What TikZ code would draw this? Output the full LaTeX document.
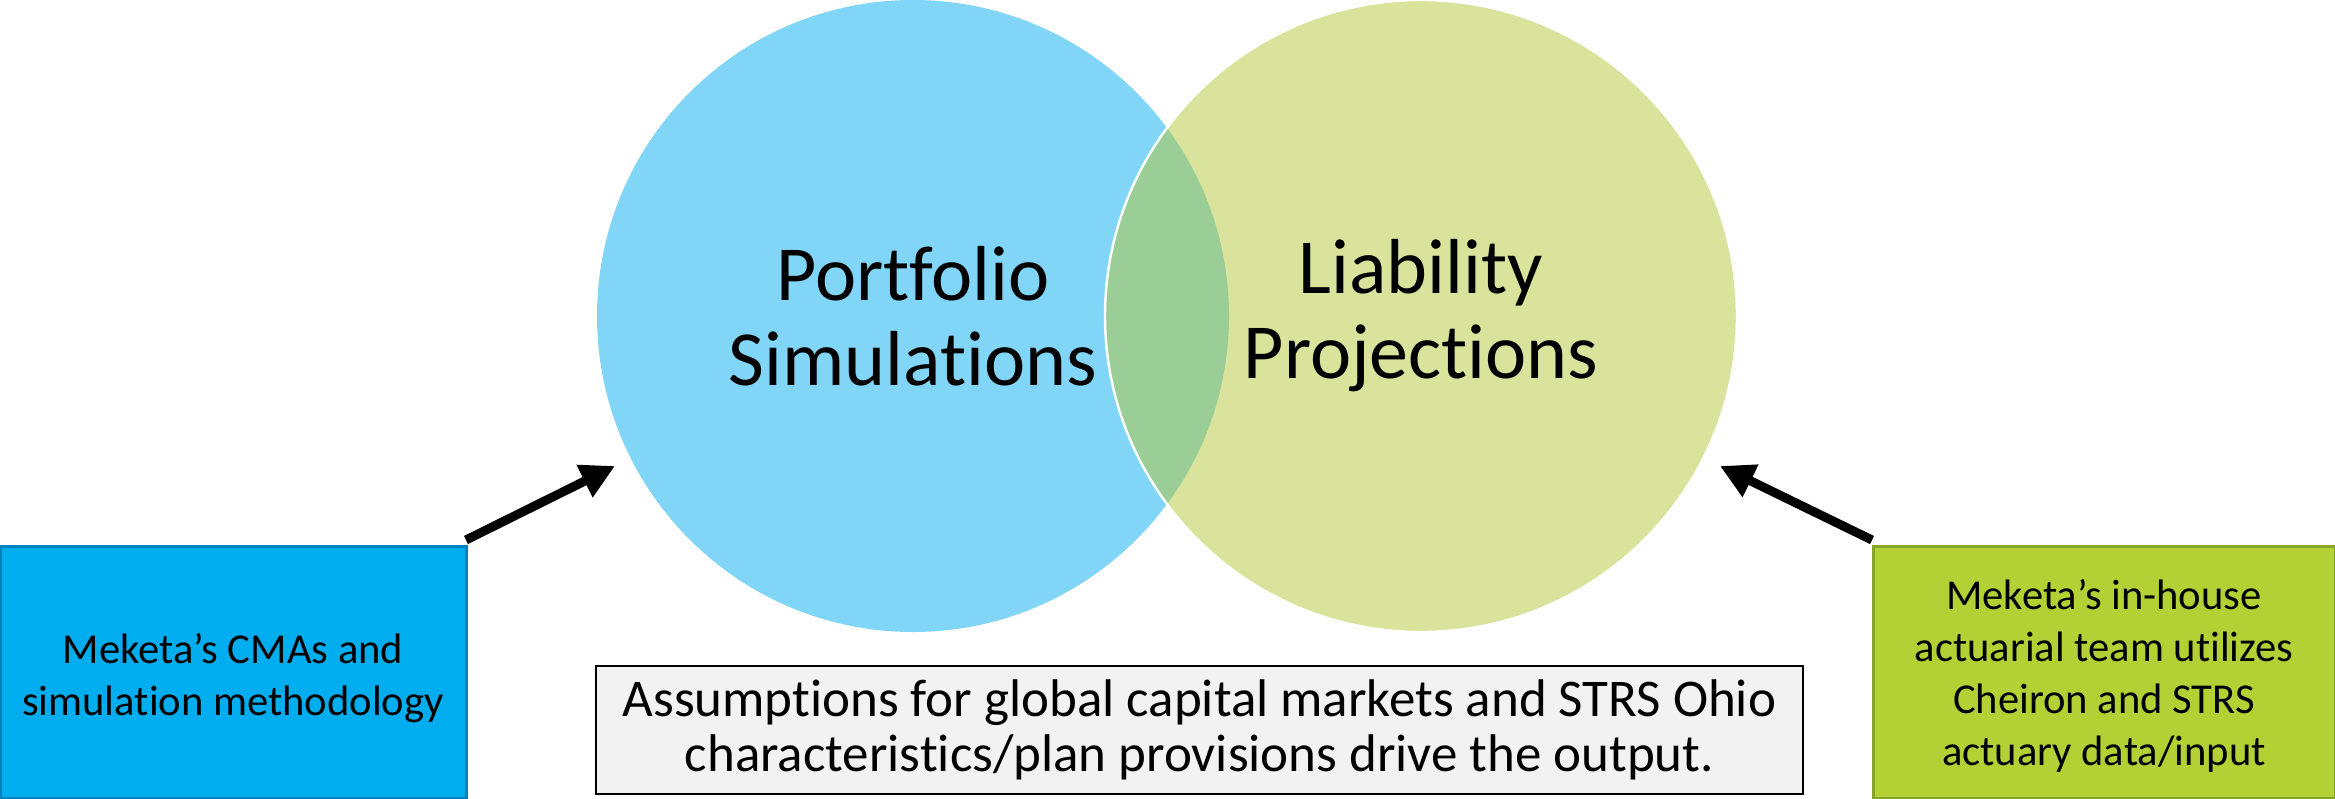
\documentclass[tikz,border=0pt]{standalone}
\usepackage{fontspec}
\setmainfont{Carlito}[Ligatures=NoCommon]
\usetikzlibrary{arrows.meta}
\definecolor{cblue}{RGB}{129,214,247}
\definecolor{cgreen}{RGB}{179,199,55}
\definecolor{lboxfill}{RGB}{0,174,239}
\definecolor{lboxdraw}{RGB}{0,130,190}
\definecolor{rboxfill}{RGB}{179,208,52}
\definecolor{rboxdraw}{RGB}{135,165,40}
\definecolor{notefill}{RGB}{242,242,242}
\tikzset{
  venn/.style={circle, inner sep=0pt, minimum size=316pt, align=center,
    font=\fontsize{39pt}{42.5pt}\selectfont},
  sidebox/.style={rectangle, inner sep=0pt, line width=1.5pt, align=center,
    minimum height=126pt, font=\fontsize{21.3pt}{26pt}\selectfont},
  notebox/.style={rectangle, inner sep=0pt, draw=black, line width=1pt, fill=notefill,
    align=center, minimum width=603.5pt, minimum height=64pt,
    font=\fontsize{26.5pt}{27.5pt}\selectfont},
  bigarrow/.style={line width=4.5pt, -{Triangle[length=17pt,width=17pt]}}
}
\begin{document}
\begin{tikzpicture}[x=0.5pt,y=-0.5pt]
\useasboundingbox (0,0) rectangle (2335,798);
\node[venn, fill=cblue] (lc) at (913,316) {Portfolio\\Simulations};
\node[venn, fill=cgreen, fill opacity=0.5, text opacity=1, draw=white, line width=1.2pt] (rc) at (1421,316) {Liability\\Projections};
\node[sidebox, fill=lboxfill, draw=lboxdraw, minimum width=233pt] (lbox) at (233,672) {};
\node[sidebox, fill=rboxfill, draw=rboxdraw, minimum width=231pt] (rbox) at (2104,672) {};
\node[sidebox, draw=none, fill=none] (ltext) at (233,678) {Meketa’s CMAs and\\simulation methodology};
\node[sidebox, draw=none, fill=none] (rtext) at (2104,676) {Meketa’s in-house\\actuarial team utilizes\\Cheiron and STRS\\actuary data/input};
\node[notebox] (note) at (1199.5,730)
  {Assumptions for global capital markets and STRS Ohio\\characteristics/plan provisions drive the output.};
\coordinate (la) at (466,540);
\coordinate (lb) at (615,466);
\coordinate (ra) at (1872,540);
\coordinate (rb) at (1720,466);
\draw[bigarrow] (la) -- (lb);
\draw[bigarrow] (ra) -- (rb);
\end{tikzpicture}
\end{document}
